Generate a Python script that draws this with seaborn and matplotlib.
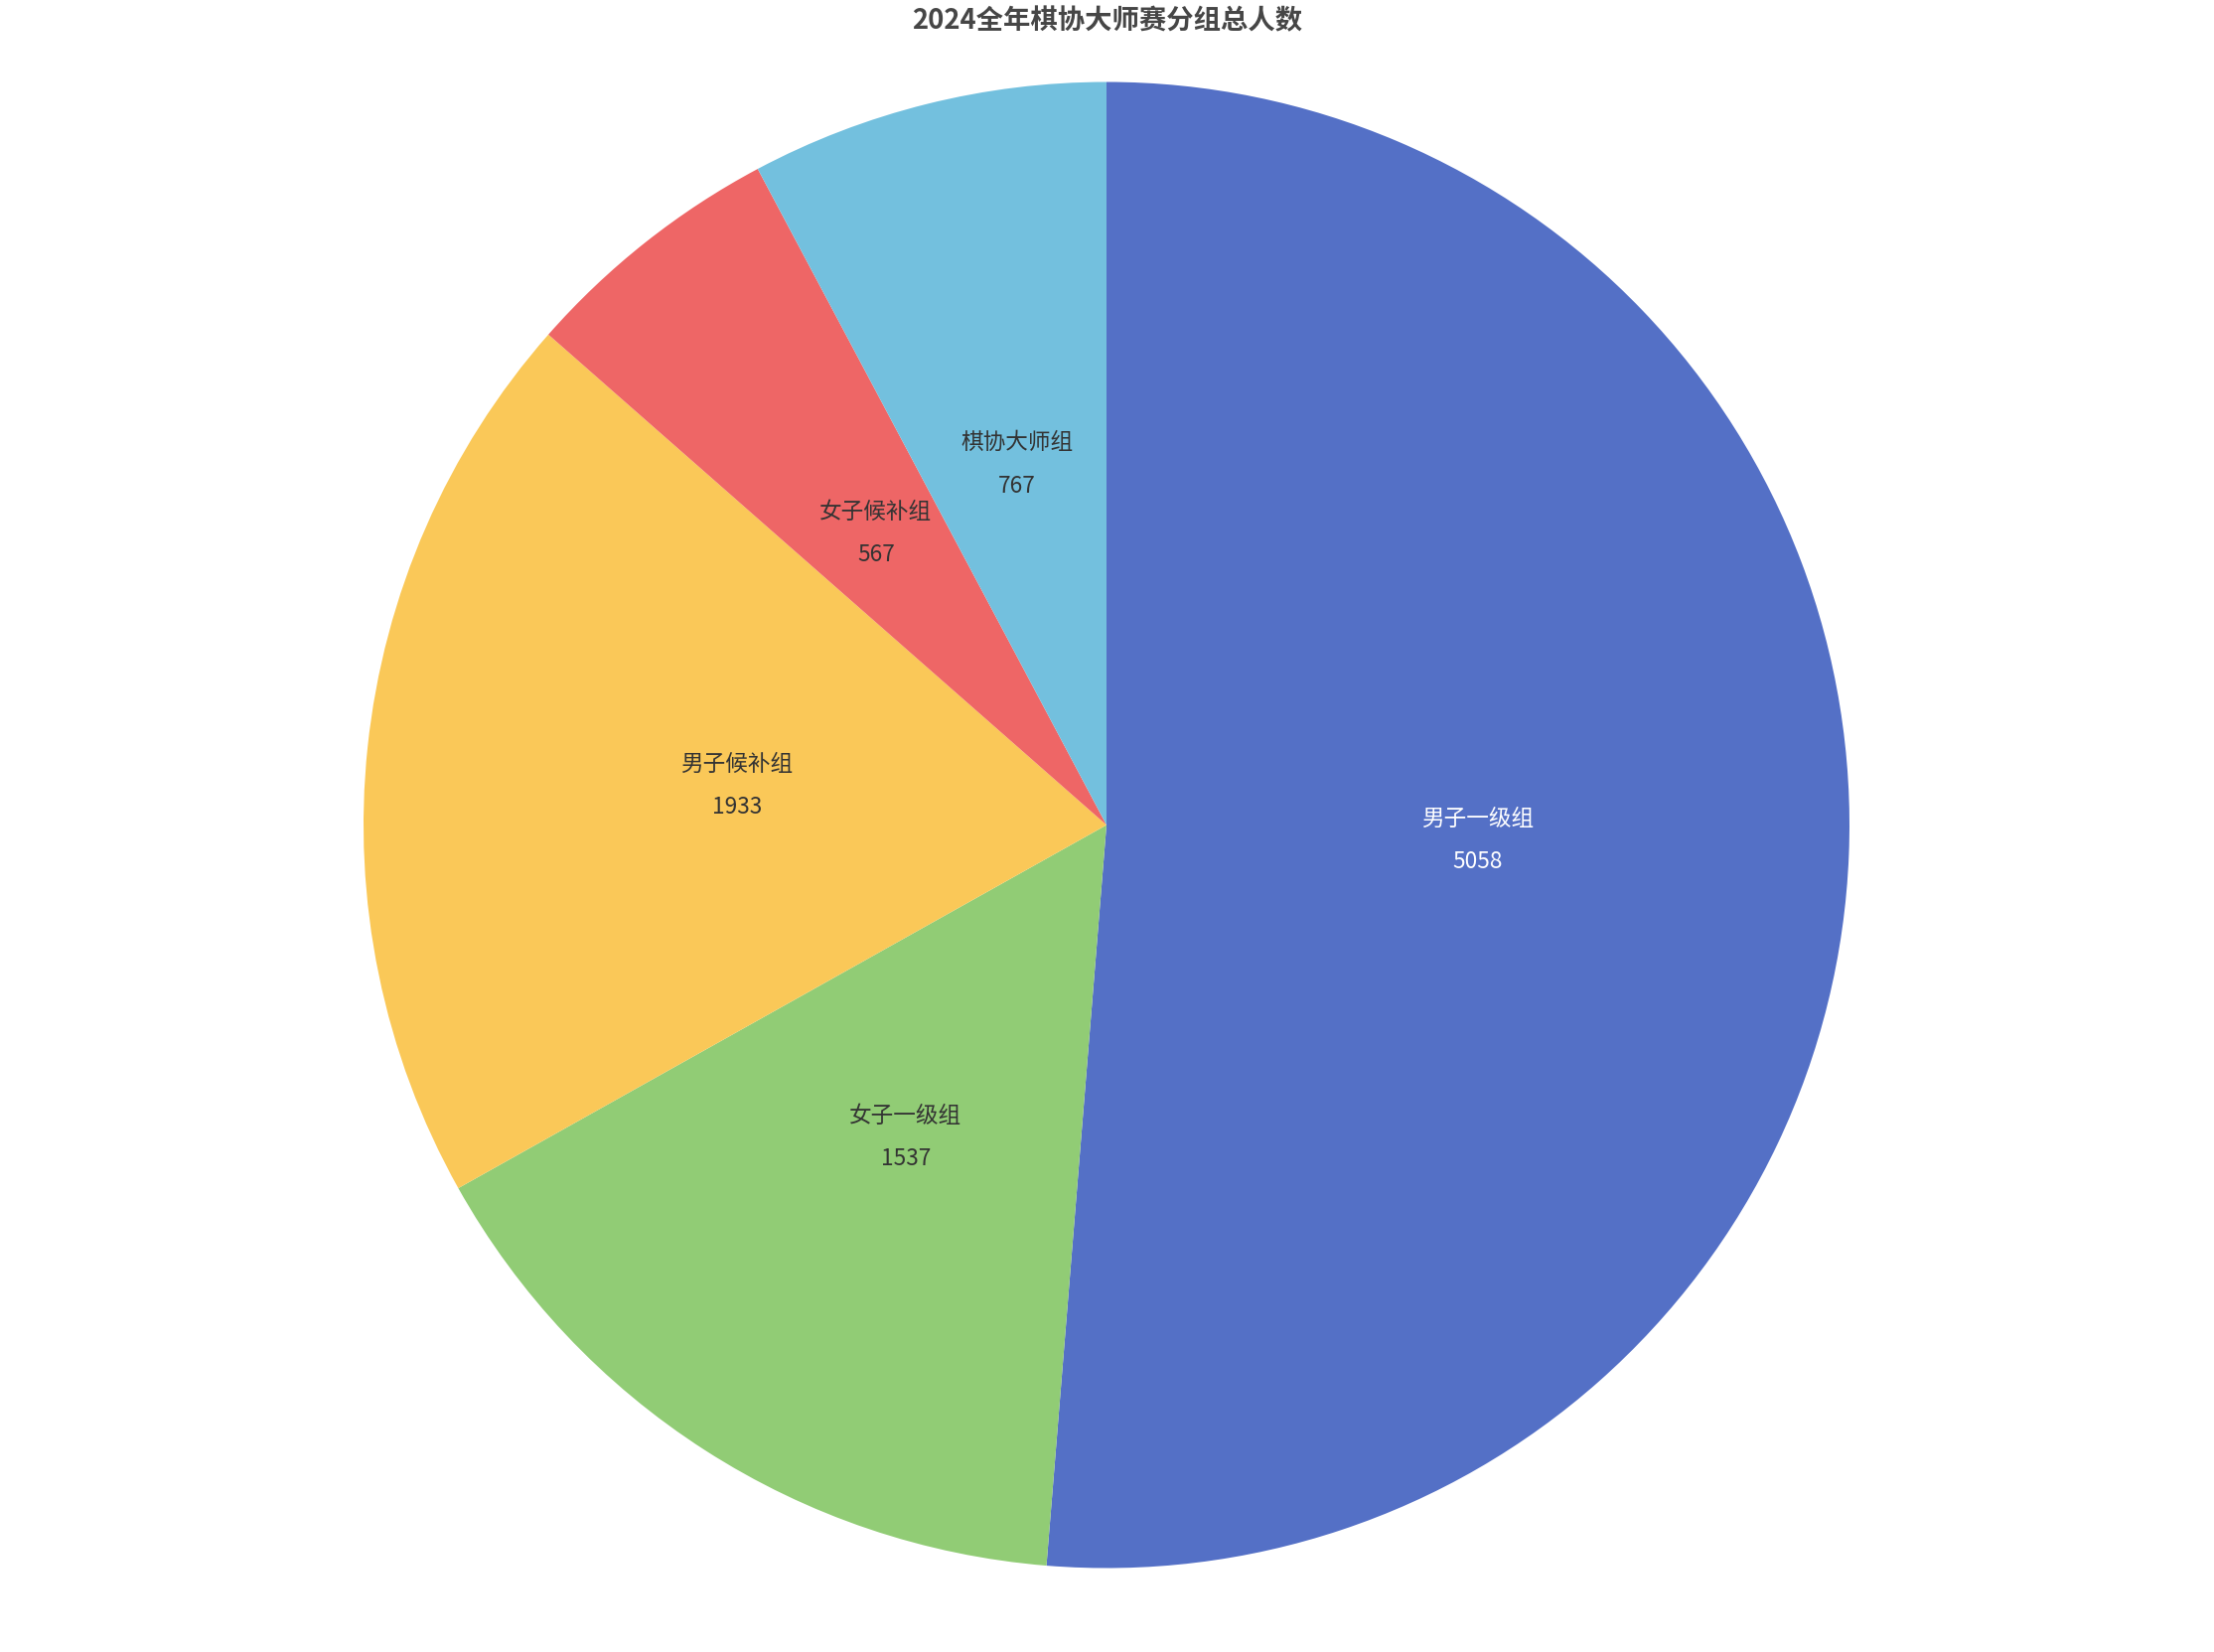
import matplotlib
matplotlib.use("Agg")
import matplotlib.pyplot as plt
import seaborn as sns
import numpy as np

# ---- data ----
title = "2024全年棋协大师赛分组总人数"
categories = ["男子一级组", "女子一级组", "男子候补组", "女子候补组", "棋协大师组"]
values = [5058, 1537, 1933, 567, 767]
colors_hex = ["#5470c6", "#91cc75", "#fac858", "#ee6666", "#73c0de"]
label_colors = ["#ffffff", "#333333", "#333333", "#333333", "#333333"]

sns.set_theme(style="white")
plt.rcParams['font.family'] = ['Noto Sans CJK SC', 'DejaVu Sans']

W, H, DPI = 2229, 1663, 100
fig = plt.figure(figsize=(W / DPI, H / DPI), dpi=DPI)

cx, cy, r = 1114, 1663 - 830.5, 748
ax = fig.add_axes([(cx - r) / W, (cy - r) / H, 2 * r / W, 2 * r / H])
ax.set_axis_off()

palette = sns.color_palette(colors_hex)
wedges, _ = ax.pie(values, colors=palette, startangle=90, counterclock=False,
                   radius=1.0, wedgeprops=dict(linewidth=0))
ax.set_xlim(-1, 1)
ax.set_ylim(-1, 1)
ax.set_aspect("equal")

for w, name, val, tc in zip(wedges, categories, values, label_colors):
    ang = np.deg2rad((w.theta1 + w.theta2) / 2)
    x, y = 0.5 * np.cos(ang), 0.5 * np.sin(ang)
    ax.annotate(name, (x, y), xytext=(0, 15.6), textcoords="offset points",
                ha="center", va="center", fontsize=16.3, color=tc)
    ax.annotate(str(val), (x, y), xytext=(0, -15.6), textcoords="offset points",
                ha="center", va="center", fontsize=16.3, color=tc)

fig.text(1114.5 / W, 1 - 21 / H, title, ha="center", va="center",
         fontsize=19.7, fontweight="bold", color="#464646")

fig.savefig("out.png", dpi=DPI, transparent=True)
